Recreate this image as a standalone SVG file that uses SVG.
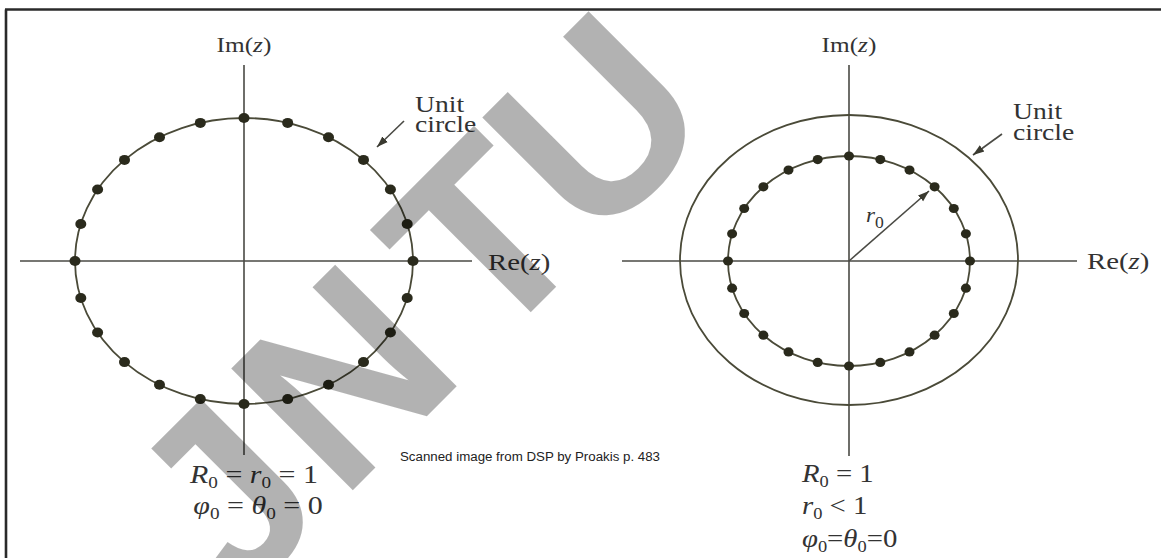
<svg xmlns="http://www.w3.org/2000/svg" width="1161" height="558" viewBox="0 0 1161 558">
<defs>
<style>
.ax{stroke:#4a4a44;stroke-width:1.6;fill:none}
.circ{stroke:#4a4a38;stroke-width:1.8;fill:none}
.dot{fill:#2a2a1c}
.lbl{font-family:"Liberation Serif",serif;font-size:22px;fill:#333}
.it{font-style:italic}
.sub{font-size:16px}
.note{font-family:"Liberation Sans",sans-serif;font-size:12px;fill:#222}
.wm{font-family:"Liberation Sans",sans-serif;font-weight:bold;font-size:250px;fill:#000;fill-opacity:0.3}
</style>
<marker id="ah" viewBox="0 0 10 10" refX="10" refY="5" markerWidth="7" markerHeight="7" orient="auto-start-reverse">
<path d="M0,1.5 L10,5 L0,8.5 Z" fill="#3a3a30"/>
</marker>
</defs>
<rect width="1161" height="558" fill="#fff"/>
<g id="frame" stroke="#2a2a2a" stroke-width="2.6" fill="none">
<path d="M5,9.5 H1161"/>
<path d="M6,9.5 V558"/>
</g>

<g id="connectors">
<line class="ax" x1="244" y1="65" x2="244" y2="455"/>
<line class="ax" x1="20" y1="261" x2="472" y2="261"/>
<line class="ax" x1="849" y1="65" x2="849" y2="456"/>
<line class="ax" x1="622" y1="261" x2="1077" y2="261"/>
<line class="ax" x1="404" y1="121" x2="377" y2="147" marker-end="url(#ah)"/>
<line class="ax" x1="1002" y1="134" x2="973" y2="155" marker-end="url(#ah)"/>
<line class="ax" x1="849" y1="261" x2="929" y2="191" marker-end="url(#ah)"/>
</g>

<g id="left-plot">
<ellipse class="circ" cx="244" cy="261" rx="169" ry="143"/>
<g class="dot">
<ellipse cx="244" cy="118" rx="5.5" ry="5"/>
<ellipse cx="287.7" cy="122.9" rx="5.5" ry="5"/>
<ellipse cx="328.5" cy="137.2" rx="5.5" ry="5"/>
<ellipse cx="363.5" cy="159.9" rx="5.5" ry="5"/>
<ellipse cx="390.4" cy="189.5" rx="5.5" ry="5"/>
<ellipse cx="407.2" cy="224" rx="5.5" ry="5"/>
<ellipse cx="413" cy="261" rx="5.5" ry="5"/>
<ellipse cx="407.2" cy="298" rx="5.5" ry="5"/>
<ellipse cx="390.4" cy="332.5" rx="5.5" ry="5"/>
<ellipse cx="363.5" cy="362.1" rx="5.5" ry="5"/>
<ellipse cx="328.5" cy="384.8" rx="5.5" ry="5"/>
<ellipse cx="287.7" cy="399.1" rx="5.5" ry="5"/>
<ellipse cx="244" cy="404" rx="5.5" ry="5"/>
<ellipse cx="200.3" cy="399.1" rx="5.5" ry="5"/>
<ellipse cx="159.5" cy="384.8" rx="5.5" ry="5"/>
<ellipse cx="124.5" cy="362.1" rx="5.5" ry="5"/>
<ellipse cx="97.6" cy="332.5" rx="5.5" ry="5"/>
<ellipse cx="80.8" cy="298" rx="5.5" ry="5"/>
<ellipse cx="75" cy="261" rx="5.5" ry="5"/>
<ellipse cx="80.8" cy="224" rx="5.5" ry="5"/>
<ellipse cx="97.6" cy="189.5" rx="5.5" ry="5"/>
<ellipse cx="124.5" cy="159.9" rx="5.5" ry="5"/>
<ellipse cx="159.5" cy="137.2" rx="5.5" ry="5"/>
<ellipse cx="200.3" cy="122.9" rx="5.5" ry="5"/>
</g>
</g>

<g id="right-plot">
<ellipse class="circ" cx="849" cy="260" rx="169" ry="145"/>
<ellipse class="circ" cx="849" cy="261" rx="121" ry="105"/>
<g class="dot">
<ellipse cx="849" cy="156" rx="5" ry="4.6"/>
<ellipse cx="880.3" cy="159.6" rx="5" ry="4.6"/>
<ellipse cx="909.5" cy="170.1" rx="5" ry="4.6"/>
<ellipse cx="934.6" cy="186.8" rx="5" ry="4.6"/>
<ellipse cx="953.8" cy="208.5" rx="5" ry="4.6"/>
<ellipse cx="965.9" cy="233.8" rx="5" ry="4.6"/>
<ellipse cx="970" cy="261" rx="5" ry="4.6"/>
<ellipse cx="965.9" cy="288.2" rx="5" ry="4.6"/>
<ellipse cx="953.8" cy="313.5" rx="5" ry="4.6"/>
<ellipse cx="934.6" cy="335.2" rx="5" ry="4.6"/>
<ellipse cx="909.5" cy="351.9" rx="5" ry="4.6"/>
<ellipse cx="880.3" cy="362.4" rx="5" ry="4.6"/>
<ellipse cx="849" cy="366" rx="5" ry="4.6"/>
<ellipse cx="817.7" cy="362.4" rx="5" ry="4.6"/>
<ellipse cx="788.5" cy="351.9" rx="5" ry="4.6"/>
<ellipse cx="763.4" cy="335.2" rx="5" ry="4.6"/>
<ellipse cx="744.2" cy="313.5" rx="5" ry="4.6"/>
<ellipse cx="732.1" cy="288.2" rx="5" ry="4.6"/>
<ellipse cx="728" cy="261" rx="5" ry="4.6"/>
<ellipse cx="732.1" cy="233.8" rx="5" ry="4.6"/>
<ellipse cx="744.2" cy="208.5" rx="5" ry="4.6"/>
<ellipse cx="763.4" cy="186.8" rx="5" ry="4.6"/>
<ellipse cx="788.5" cy="170.1" rx="5" ry="4.6"/>
<ellipse cx="817.7" cy="159.6" rx="5" ry="4.6"/>
</g>
</g>

<g id="labels-left" class="lbl">
<text transform="translate(244,52) scale(1.15,1)" text-anchor="middle">Im(<tspan class="it">z</tspan>)</text>
<text transform="translate(488,270) scale(1.2,1)" font-size="24">Re(<tspan class="it">z</tspan>)</text>
<text transform="translate(415,112) scale(1.2,1)" font-size="23">Unit</text>
<text transform="translate(415,132) scale(1.2,1)" font-size="23">circle</text>
<text transform="translate(254,483) scale(1.2,1)" text-anchor="middle" font-size="25"><tspan class="it">R</tspan><tspan class="sub" dy="5">0</tspan><tspan dy="-5"> = </tspan><tspan class="it">r</tspan><tspan class="sub" dy="5">0</tspan><tspan dy="-5"> = 1</tspan></text>
<text transform="translate(258,514) scale(1.2,1)" text-anchor="middle" font-size="25"><tspan class="it">φ</tspan><tspan class="sub" dy="5">0</tspan><tspan dy="-5"> = </tspan><tspan class="it">θ</tspan><tspan class="sub" dy="5">0</tspan><tspan dy="-5"> = 0</tspan></text>
</g>

<g id="labels-right" class="lbl">
<text transform="translate(849,52) scale(1.15,1)" text-anchor="middle">Im(<tspan class="it">z</tspan>)</text>
<text transform="translate(1087,269) scale(1.2,1)" font-size="24">Re(<tspan class="it">z</tspan>)</text>
<text transform="translate(1013,119) scale(1.2,1)" font-size="23">Unit</text>
<text transform="translate(1013,140) scale(1.2,1)" font-size="23">circle</text>
<text transform="translate(866,222) scale(1.1,1)" font-size="21"><tspan class="it">r</tspan><tspan class="sub" dy="6">0</tspan></text>
<text transform="translate(802,482) scale(1.15,1)" font-size="25"><tspan class="it">R</tspan><tspan class="sub" dy="5">0</tspan><tspan dy="-5"> = 1</tspan></text>
<text transform="translate(802,514) scale(1.15,1)" font-size="25"><tspan class="it">r</tspan><tspan class="sub" dy="5">0</tspan><tspan dy="-5"> &lt; 1</tspan></text>
<text transform="translate(802,547) scale(1.15,1)" font-size="25"><tspan class="it">φ</tspan><tspan class="sub" dy="5">0</tspan><tspan dy="-5">=</tspan><tspan class="it">θ</tspan><tspan class="sub" dy="5">0</tspan><tspan dy="-5">=0</tspan></text>
</g>

<g id="caption">
<text class="note" x="400" y="461" textLength="260" lengthAdjust="spacingAndGlyphs">Scanned image from DSP by Proakis p. 483</text>
</g>

<g id="watermark">
<text class="wm" transform="translate(421.5,421.5) rotate(-45)"><tspan x="-262" y="0">J</tspan><tspan x="-114" y="0">N</tspan><tspan x="96" y="0">T</tspan><tspan x="243" y="0">U</tspan></text>
</g>
</svg>
